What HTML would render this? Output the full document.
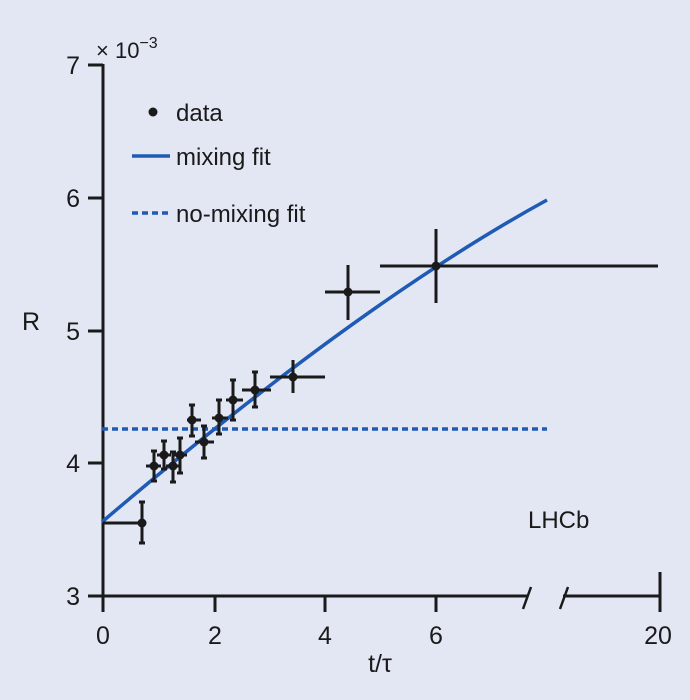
<!DOCTYPE html>
<html><head><style>
body{margin:0;background:#e3e7f4;}
svg{display:block;font-family:"Liberation Sans",sans-serif;}
</style></head><body>
<svg width="690" height="700" viewBox="0 0 690 700">
<rect width="690" height="700" fill="#e3e7f4"/>
<g stroke="#1a1a1a" stroke-width="3" fill="none">
<path d="M103 64V596H527M563 596H660V572"/>
<path d="M88 65H103M88 198H103M88 331H103M88 463H103M88 596H103"/>
<path d="M103 596V612M215 596V612M325 596V612M436 596V612M660 596V612"/>
<path d="M523 609L531 587M560 609L568 587" stroke-width="2.5"/>
</g>
<g font-size="25" fill="#1a1a1a" text-anchor="end">
<text x="80" y="74">7</text><text x="80" y="207">6</text><text x="80" y="340">5</text><text x="80" y="472">4</text><text x="80" y="605">3</text>
</g>
<g font-size="25" fill="#1a1a1a" text-anchor="middle">
<text x="103" y="644">0</text><text x="215" y="644">2</text><text x="325" y="644">4</text><text x="436" y="644">6</text><text x="658" y="644">20</text>
<text x="380" y="672">t/τ</text>
</g>
<text x="22" y="330" font-size="25" fill="#1a1a1a">R</text>
<text x="96" y="58" font-size="22" fill="#1a1a1a">× 10<tspan dy="-10" font-size="16">−3</tspan></text>
<text x="528" y="528" font-size="24" fill="#1a1a1a">LHCb</text>
<path d="M102 429H547" stroke="#1f5bb5" stroke-width="3.5" stroke-dasharray="6 4"/>
<path d="M102 522Q359 303 547 200" stroke="#1f5bb5" stroke-width="3.5" fill="none"/>
<g stroke="#1a1a1a" stroke-width="3">
<path d="M103 523H142M142 502V543M139 502H145M139 543H145"/>
<path d="M146 466H161M154 451V481M151 451H157M151 481H157"/>
<path d="M157 455H171M164 441V469M161 441H167M161 469H167"/>
<path d="M166 466H180M173 452V482M170 452H176M170 482H176"/>
<path d="M174 455H187M180 438V473M177 438H183M177 473H183"/>
<path d="M187 420H201M192 405V436M189 405H195M189 436H195"/>
<path d="M195 442H214M204 426V458M201 426H207M201 458H207"/>
<path d="M212 418H228M219 400V434M216 400H222M216 434H222"/>
<path d="M226 400H243M233 380V420M230 380H236M230 420H236"/>
<path d="M242 390H271M255 372V407M252 372H258M252 407H258"/>
<path d="M270 377H325M293 360V393"/>
<path d="M325 292H380M348 265V320"/>
<path d="M380 266H658M436 229V303"/>
</g>
<g fill="#1a1a1a">
<circle cx="142" cy="523" r="4.5"/><circle cx="154" cy="466" r="4.5"/><circle cx="164" cy="455" r="4.5"/><circle cx="173" cy="466" r="4.5"/><circle cx="180" cy="455" r="4.5"/><circle cx="192" cy="420" r="4.5"/><circle cx="204" cy="442" r="4.5"/><circle cx="219" cy="418" r="4.5"/><circle cx="233" cy="400" r="4.5"/><circle cx="255" cy="390" r="4.5"/><circle cx="293" cy="377" r="4.5"/><circle cx="348" cy="292" r="4.5"/><circle cx="436" cy="266" r="4.5"/>
<circle cx="153" cy="112" r="4.5"/>
</g>
<path d="M132 156H170" stroke="#1f5bb5" stroke-width="3.5"/>
<path d="M132 213H170" stroke="#1f5bb5" stroke-width="3.5" stroke-dasharray="6 4"/>
<g font-size="24" fill="#1a1a1a">
<text x="176" y="121">data</text><text x="176" y="165">mixing fit</text><text x="176" y="222">no-mixing fit</text>
</g>
</svg>
</body></html>
